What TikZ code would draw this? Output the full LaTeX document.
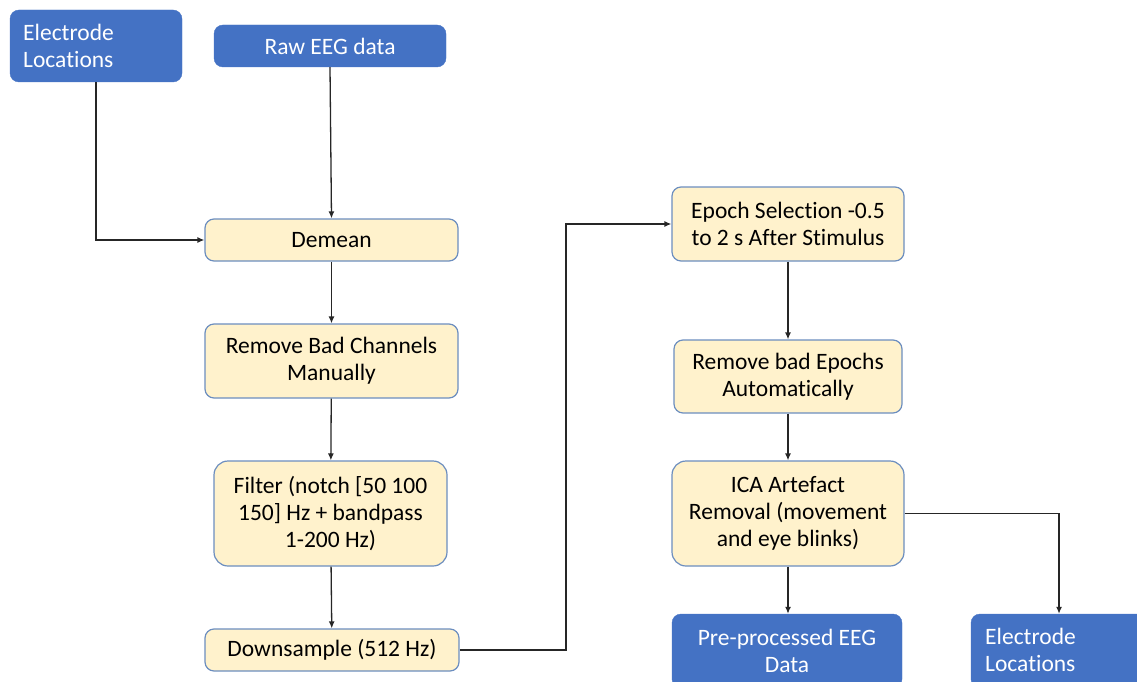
\documentclass[tikz,border=0pt]{standalone}
\usepackage{fontspec}
\setmainfont{Carlito}[Ligatures=NoCommon]
\usetikzlibrary{arrows.meta}
\definecolor{boxblue}{HTML}{4472C4}
\definecolor{stepfill}{HTML}{FFF2CC}
\definecolor{stepline}{HTML}{6C8EBF}
\tikzset{
  databox/.style={fill=boxblue, draw=boxblue, rounded corners=9pt, text=white,
    inner sep=0pt, font=\fontsize{23.5}{27}\selectfont},
  procbox/.style={fill=stepfill, draw=stepline, line width=1.2pt, rounded corners=9pt,
    inner sep=0pt, align=center, font=\fontsize{23.5}{27}\selectfont},
  flow/.style={draw=black!85, line width=1.3pt, -{Latex[length=7pt,width=6pt]}}
}
\begin{document}
\begin{tikzpicture}[x=1pt,y=-1pt]
\useasboundingbox (0,0) rectangle (1137,682);
\clip (0,0) rectangle (1137,682);
% inputs
\node[databox, minimum width=172pt, minimum height=72pt] (elecin) at (96,46) {};
\node[databox, anchor=west, align=left, fill=none, draw=none] at (23,46) {Electrode\\Locations};
\node[databox, minimum width=232pt, minimum height=42pt] (raw) at (330,46) {Raw EEG data};
% left column of steps
\node[procbox, minimum width=253pt, minimum height=42pt] (demean) at (331.5,240) {Demean};
\node[procbox, minimum width=253pt, minimum height=74pt] (badch) at (331.5,361) {Remove Bad Channels\\Manually};
\node[procbox, minimum width=233pt, minimum height=105pt, rounded corners=14pt] (filter) at (330.5,513.5) {Filter (notch [50 100\\150] Hz + bandpass\\1-200 Hz)};
\node[procbox, minimum width=254pt, minimum height=42pt] (down) at (332,650) {Downsample (512 Hz)};
% right column of steps
\node[procbox, minimum width=232pt, minimum height=74pt] (epoch) at (788,224) {Epoch Selection -0.5\\to 2 s After Stimulus};
\node[procbox, minimum width=228pt, minimum height=73pt] (badep) at (788,376.5) {Remove bad Epochs\\Automatically};
\node[procbox, minimum width=232pt, minimum height=105pt, rounded corners=14pt] (ica) at (788,513.5) {ICA Artefact\\Removal (movement\\and eye blinks)};
% outputs
\node[databox, minimum width=230pt, minimum height=74pt, align=center] (clean) at (787,651) {Pre-processed EEG\\Data};
\node[databox, minimum width=176pt, minimum height=74pt] (elecout) at (1059,651) {};
\node[databox, anchor=west, align=left, fill=none, draw=none] at (985,650) {Electrode\\Locations};
% connectors
\draw[flow] (elecin.south) |- (demean.west);
\draw[flow] (raw.south) -- (demean.north);
\draw[flow] (demean) -- (badch);
\draw[flow] (badch) -- (filter);
\draw[flow] (filter) -- (down);
\coordinate (bend) at (566,650);
\draw[flow] (down.east) -- (bend) |- (epoch.west);
\draw[flow] (epoch.south) -- (badep.north -| epoch.south);
\draw[flow] (badep) -- (ica);
\draw[flow] (ica.south) -- (clean.north -| ica.south);
\draw[flow] (ica.east) -| (elecout.north);
\end{tikzpicture}
\end{document}
